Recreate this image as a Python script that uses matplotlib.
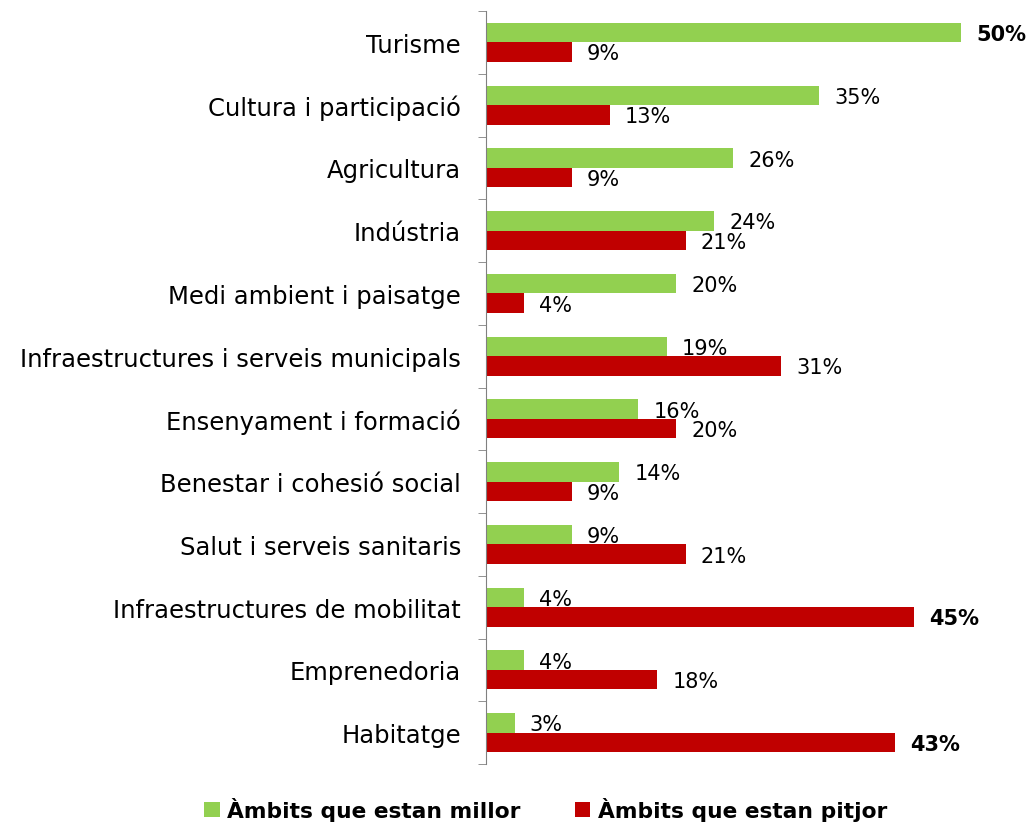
import matplotlib.pyplot as plt
import numpy as np

categories = ['Turisme', 'Cultura i participació', 'Agricultura', 'Indústria',
              'Medi ambient i paisatge', 'Infraestructures i serveis municipals',
              'Ensenyament i formació', 'Benestar i cohesió social',
              'Salut i serveis sanitaris', 'Infraestructures de mobilitat',
              'Emprenedoria', 'Habitatge']
millor = [50, 35, 26, 24, 20, 19, 16, 14, 9, 4, 4, 3]
pitjor = [9, 13, 9, 21, 4, 31, 20, 9, 21, 45, 18, 43]
bold_labels = {('millor', 0), ('pitjor', 9), ('pitjor', 11)}

plt.rcParams['font.family'] = ['DejaVu Sans']

fig = plt.figure(figsize=(10.26, 8.28), dpi=100)
ax = fig.add_axes([0.4737, 0.076, 0.5263, 0.9095])

y = np.arange(len(categories))
h = 0.31
b1 = ax.barh(y - h / 2, millor, height=h, color='#92d050', label='Àmbits que estan millor')
b2 = ax.barh(y + h / 2, pitjor, height=h, color='#c00000', label='Àmbits que estan pitjor')

for name, bars, vals in [('millor', b1, millor), ('pitjor', b2, pitjor)]:
    for i, (bar, v) in enumerate(zip(bars, vals)):
        w = 'bold' if (name, i) in bold_labels else 'normal'
        ax.annotate(f'{v}%', (v, bar.get_y() + bar.get_height() / 2),
                    xytext=(11, -1), textcoords='offset points',
                    va='center', ha='left', fontsize=15, fontweight=w, color='black')

ax.set_ylim(len(categories) - 0.5, -0.5)
ax.set_xlim(0, 56.8)
ax.set_yticks(y)
ax.set_yticklabels(categories, fontsize=17.5)
ax.tick_params(axis='y', which='major', length=0, pad=18)
ax.set_yticks(np.arange(-0.5, len(categories)), minor=True)
ax.tick_params(axis='y', which='minor', length=6, color='#808080')
ax.set_xticks([])
for s in ['top', 'right', 'bottom']:
    ax.spines[s].set_visible(False)
ax.spines['left'].set_color('#808080')

fig.legend(handles=[b1, b2], loc='center', bbox_to_anchor=(0.532, 0.022), ncol=2,
           frameon=False, prop={'weight': 'bold', 'size': 15.7},
           handlelength=0.7, handleheight=0.7, handletextpad=0.35, columnspacing=2.5)

fig.savefig('out.png', dpi=100)
